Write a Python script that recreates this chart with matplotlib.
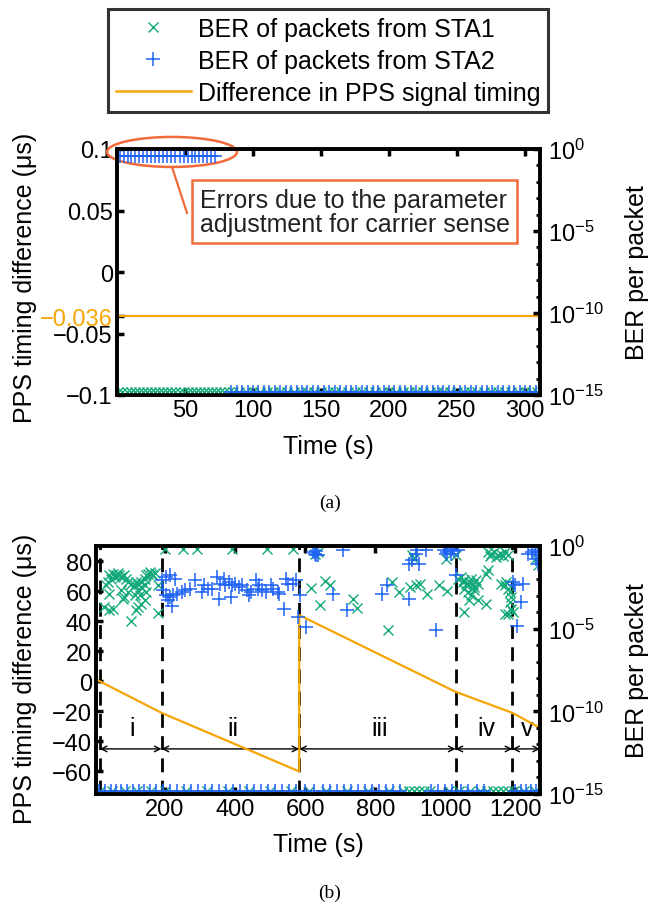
import matplotlib
matplotlib.use("Agg")
import matplotlib.pyplot as plt
import numpy as np
from matplotlib.lines import Line2D
from matplotlib.patches import Ellipse
from matplotlib.ticker import FixedLocator, FuncFormatter

plt.rcParams['font.family'] = ['Liberation Sans', 'DejaVu Sans']
plt.rcParams['mathtext.fontset'] = 'custom'
plt.rcParams['mathtext.rm'] = 'Liberation Sans'
plt.rcParams['mathtext.it'] = 'Liberation Sans:italic'

C_STA1 = '#12A97A'
C_STA2 = '#1F63F5'
C_PPS = '#F5A505'
C_ANN = '#F06A3A'

# ---------------- data: panel (a) ----------------
a_pps_t = [0, 311]
a_pps_v = [-0.036, -0.036]
a_sta2_top_t = [2, 5, 8, 10, 13, 16, 19, 22, 25, 28, 31, 34, 37, 40, 43, 46, 49, 52,
                55, 57, 60, 63, 66, 69, 72]
a_sta2_top_e = [-0.45] * len(a_sta2_top_t)
a_sta1_floor_t = [1, 4, 7, 10, 13, 16, 19, 22, 25, 28, 31, 34, 37, 40, 43, 46, 49, 52,
                  55, 58, 61, 64, 67, 70, 73, 76, 79, 82, 85, 90, 95, 100, 105, 110, 115,
                  120, 125, 130, 135, 140, 145, 150, 155, 160, 165, 170, 175, 180, 185,
                  190, 195, 200, 205, 210, 215, 220, 225, 230, 235, 240, 245, 250, 255,
                  260, 265, 270, 275, 280, 285, 290, 295, 300, 305, 309]
a_sta2_floor_t = [84, 88, 92, 96, 100, 104, 108, 112, 116, 120, 124, 128, 132, 136, 140,
                  144, 148, 152, 156, 160, 164, 168, 172, 176, 180, 184, 188, 192, 196,
                  200, 204, 208, 212, 216, 220, 224, 228, 232, 236, 240, 244, 248, 252,
                  256, 260, 264, 268, 272, 276, 280, 284, 288, 292, 296, 300, 304, 308]

ber_floor = 1.5e-15

# ---------------- data: panel (b) ----------------
b_pps_t = [5, 190, 583, 583, 1029, 1191, 1270]
b_pps_v = [1, -21, -60, 44, -7, -21, -31]
b_bounds = [14, 190, 583, 1029, 1191, 1270]
b_phase_labels = ['i', 'ii', 'iii', 'iv', 'v']
b_phase_label_t = [105, 393, 811, 1117, 1232]

b_sta1_t = [41, 51, 60, 65, 70, 75, 84, 89, 56, 46, 36, 32, 94, 104, 113, 118, 123, 132,
            142, 147, 152, 156, 161, 166, 171, 142, 132, 123, 41, 75, 84, 80, 128, 142,
            132, 123, 118, 27, 41, 51, 104, 180, 180, 94, 147, 113,
            200, 252, 291, 392, 492, 564,
            617, 656, 670, 641, 735, 749, 835, 848, 867, 900, 915, 927, 948, 982, 1006,
            1054, 627, 636, 905, 910, 1001, 1030,
            1044, 1054, 1059, 1064, 1068, 1073, 1078, 1083, 1088, 1092, 1054, 1064, 1073,
            1083, 1068, 1092, 1116, 1116, 1121, 1035, 1049,
            1121, 1131, 1140, 1150, 1160, 1169, 1179, 1126, 1145, 1165,
            1160, 1169, 1179, 1174, 1184, 1188, 1184, 1188, 1179, 1169, 1193,
            1265, 1256]
b_sta1_e = [-1.78, -1.68, -1.74, -1.62, -1.78, -1.88, -1.78, -1.98, -1.88, -1.98, -2.18,
            -2.38, -2.18, -2.28, -2.38, -2.18, -2.28, -2.18, -1.98, -1.78, -1.68, -1.58,
            -1.68, -1.78, -1.62, -2.38, -2.48, -2.69, -2.89, -2.69, -3.09, -3.19, -2.99,
            -3.29, -3.49, -3.70, -3.90, -3.70, -3.90, -3.80, -4.55, -4.04, -2.38, -2.79,
            -2.79, -2.99,
            -0.2, -0.2, -0.2, -0.2, -0.2, -0.2,
            -2.55, -2.14, -2.38, -3.56, -3.23, -3.72, -5.11, -2.18, -2.79, -2.48, -2.38,
            -2.28, -2.89, -2.38, -2.75, -4.0, -0.46, -0.36, -0.57, -0.77, -0.77, -0.57,
            -1.88, -2.08, -2.28, -2.38, -2.18, -1.98, -2.28, -2.48, -2.08, -2.28, -2.59,
            -2.79, -2.99, -2.69, -3.29, -3.29, -3.49, -1.68, -1.47, -1.98, -2.18,
            -0.36, -0.46, -0.36, -0.57, -0.46, -0.36, -0.53, -0.61, -0.67, -0.61,
            -2.28, -2.38, -2.59, -2.18, -2.79, -3.09, -3.39, -3.80, -4.10, -4.10, -4.00,
            -1.17, -0.77]

b_sta2_t = [190, 204, 214, 228, 195, 204, 214, 224, 233, 248, 257, 272, 286, 305, 310,
            324, 334, 348, 358, 368, 372, 382, 392, 401, 411, 420, 435, 444, 459, 468,
            478, 488, 502, 507, 521, 526, 545, 550, 564, 574, 353, 387, 440, 219, 209,
            540, 584, 579, 603, 464,
            622, 627, 632, 636, 630, 708,
            680, 718, 819, 833, 896, 972, 896, 905, 924, 915, 920, 944,
            996, 1006, 1016, 1025, 1035, 1001, 1020, 1030,
            1193, 1198, 1222, 1217, 1203, 1236, 1246, 1256, 1265, 1270, 1260, 1265]
b_sta2_e = [-2.08, -1.88, -1.78, -1.98, -2.69, -2.99, -3.09, -2.99, -2.89, -2.79, -2.69,
            -2.59, -2.08, -2.79, -2.38, -2.59, -2.59, -1.88, -2.28, -1.98, -2.38, -2.18,
            -2.38, -2.28, -2.48, -2.38, -2.69, -2.79, -2.08, -2.38, -2.69, -2.79, -2.38,
            -2.59, -2.79, -2.89, -1.98, -2.28, -2.28, -2.08, -3.19, -3.09, -2.99, -3.60,
            -3.29, -3.80, -2.99, -4.30, -4.91, -2.59,
            -0.36, -0.46, -0.32, -0.53, -0.57, -0.26,
            -2.89, -3.90, -2.89, -2.38, -3.19, -5.11, -1.07, -0.87, -1.07, -0.46, -0.26,
            -0.26,
            -0.26, -0.36, -0.46, -0.32, -0.26, -0.46, -0.2, -1.78,
            -2.18, -2.38, -2.28, -3.39, -4.81, -0.46, -0.36, -0.26, -0.57, -0.36, -0.77,
            -1.07]

b_sta1_floor_t = [15, 50, 85, 120, 160, 200, 260, 320, 380, 440, 500, 560, 610, 660, 720,
                  780, 840, 880, 895, 910, 925, 940, 955, 1010, 1040, 1070, 1100, 1120,
                  1135, 1150, 1165, 1180, 1195, 1225, 1255]
b_sta2_floor_t = [12, 30, 45, 60, 75, 92, 110, 125, 140, 158, 175, 195, 215, 235, 255,
                  275, 295, 315, 335, 355, 375, 395, 415, 435, 455, 475, 495, 515, 535,
                  555, 575, 600, 625, 650, 670, 690, 710, 730, 750, 770, 790, 810, 830,
                  850, 870, 960, 980, 1000, 1020, 1045, 1065, 1090, 1110, 1200, 1215,
                  1230, 1245, 1260]

# ---------------- figure ----------------
fig = plt.figure(figsize=(6.61, 9.12), dpi=100)
FS = 17      # tick labels
FL = 18      # axis labels, legend, annotation
SPW = 2.6

def style_axes(ax, axr):
    for sp in ax.spines.values():
        sp.set_linewidth(SPW)
    for sp in axr.spines.values():
        sp.set_linewidth(SPW)
    ax.tick_params(axis='both', which='major', direction='in', length=5, width=2.5,
                   labelsize=FS, top=True, right=False, pad=3)
    axr.tick_params(axis='y', which='major', direction='in', length=5, width=2.5,
                    labelsize=FS, pad=6)
    axr.tick_params(axis='y', which='minor', direction='in', length=3, width=2)
    axr.set_yscale('log')
    axr.set_ylim(1e-15, 1)
    axr.yaxis.set_major_locator(FixedLocator([1e-15, 1e-10, 1e-5, 1]))
    axr.yaxis.set_minor_locator(FixedLocator([10.0 ** k for k in range(-15, 1)]))
    axr.yaxis.set_major_formatter(FuncFormatter(lambda v, p: r'$10^{%d}$' % round(np.log10(v))))
    axr.yaxis.set_minor_formatter(FuncFormatter(lambda v, p: ''))
    axr.set_ylabel('BER per packet', fontsize=FL)

mk1 = dict(marker='x', color=C_STA1, linestyle='none', markersize=7, markeredgewidth=1.0)
mk2 = dict(marker='+', color=C_STA2, linestyle='none', markersize=10.5, markeredgewidth=1.1)

# ---- panel (a)
ax1 = fig.add_axes([117/661, 1-396/912, 423/661, 246/912])
ax1r = ax1.twinx()
style_axes(ax1, ax1r)
ax1.plot(a_pps_t, a_pps_v, color=C_PPS, lw=1.6)
ax1.set_xlim(0, 311)
ax1.set_ylim(-0.1, 0.1)
ax1.set_xticks([50, 100, 150, 200, 250, 300])
ax1.set_yticks([-0.1, -0.05, -0.036, 0, 0.05, 0.1])
ax1.set_yticklabels(['\u22120.1', '\u22120.05', '\u22120.036', '0', '0.05', '0.1'])
for lbl, t in zip(ax1.get_yticklabels(), ax1.yaxis.get_major_ticks()):
    if lbl.get_text() == '\u22120.036':
        lbl.set_color(C_PPS)
        t.tick1line.set_color(C_PPS)
ax1r.plot(a_sta1_floor_t, [ber_floor] * len(a_sta1_floor_t), **mk1)
ax1r.plot(a_sta2_floor_t, [ber_floor] * len(a_sta2_floor_t), **mk2)
ax1r.plot(a_sta2_top_t, [10.0 ** e for e in a_sta2_top_e], **mk2)
ax1.set_xlabel('Time (s)', fontsize=FL)
ax1.xaxis.set_label_coords(0.5, -0.16)
ax1.set_ylabel('PPS timing difference (\u03bcs)', fontsize=FL)
ax1.yaxis.set_label_coords(-0.189, 0.48)
ax1r.yaxis.set_label_coords(1.201, 0.5)

ell = Ellipse((0.13, 0.988), 0.307, 0.122, transform=ax1.transAxes, fill=False,
              edgecolor=C_ANN, lw=1.8, clip_on=False, zorder=5)
ax1.add_patch(ell)
ax1.plot([0.13, 0.1655], [0.927, 0.74], transform=ax1.transAxes, color=C_ANN, lw=1.6,
         clip_on=False, zorder=5)
ax1.text(0.5626, 0.745, 'Errors due to the parameter\nadjustment for carrier sense',
         transform=ax1.transAxes, ha='center', va='center', fontsize=FL, color='#222222',
         linespacing=1.0, multialignment='left',
         bbox=dict(boxstyle='square,pad=0.3', facecolor='white', edgecolor=C_ANN, lw=1.8),
         zorder=6)

# ---- panel (b)
ax2 = fig.add_axes([96/661, 1-795/912, 444/661, 248/912])
ax2r = ax2.twinx()
style_axes(ax2, ax2r)
ax2.set_xlim(3, 1270)
ax2.set_ylim(-75, 90)
ax2.set_xticks([200, 400, 600, 800, 1000, 1200])
ax2.set_yticks([-60, -40, -20, 0, 20, 40, 60, 80])
ax2.set_yticklabels(['\u221260', '\u221240', '\u221220', '0', '20', '40', '60', '80'])
for xb in b_bounds[:-1]:
    ax2.axvline(xb, color='black', lw=2.0, dashes=[5, 3], zorder=3)
ax2.plot(b_pps_t, b_pps_v, color=C_PPS, lw=1.6, zorder=4)
for k in range(len(b_bounds) - 1):
    ax2.annotate('', xy=(b_bounds[k], -45), xytext=(b_bounds[k + 1], -45),
                 arrowprops=dict(arrowstyle='<->', color='black', lw=1.0,
                                 shrinkA=0, shrinkB=0, mutation_scale=10))
for lab, xt in zip(b_phase_labels, b_phase_label_t):
    ax2.text(xt, -31, lab, ha='center', va='center', fontsize=FL)
ax2r.plot(b_sta1_floor_t, [ber_floor] * len(b_sta1_floor_t), **mk1)
ax2r.plot(b_sta2_floor_t, [ber_floor] * len(b_sta2_floor_t), **mk2)
ax2r.plot(b_sta1_t, [10.0 ** e for e in b_sta1_e], **mk1)
ax2r.plot(b_sta2_t, [10.0 ** e for e in b_sta2_e], **mk2)
ax2.set_xlabel('Time (s)', fontsize=FL)
ax2.xaxis.set_label_coords(0.5, -0.155)
ax2.set_ylabel('PPS timing difference (\u03bcs)', fontsize=FL)
ax2.yaxis.set_label_coords(-0.133, 0.47)
ax2r.yaxis.set_label_coords(1.191, 0.5)

# ---- legend
handles = [Line2D([], [], **mk1), Line2D([], [], **mk2),
           Line2D([], [], color=C_PPS, lw=1.8)]
labels = ['BER of packets from STA1', 'BER of packets from STA2',
          'Difference in PPS signal timing']
leg = fig.legend(handles, labels, loc='upper center', bbox_to_anchor=(328/661, 1-10/912),
                 fontsize=FL, frameon=True, fancybox=False, edgecolor='black',
                 handlelength=3.0, handletextpad=0.3, borderpad=0.3, labelspacing=0.32,
                 borderaxespad=0)
leg.get_frame().set_linewidth(2.2)

fig.text(330/661, 1-503/912, '(a)', ha='center', va='center', fontsize=14,
         family='Liberation Serif')
fig.text(330/661, 1-893/912, '(b)', ha='center', va='center', fontsize=14,
         family='Liberation Serif')

fig.savefig('out.png', dpi=100)
